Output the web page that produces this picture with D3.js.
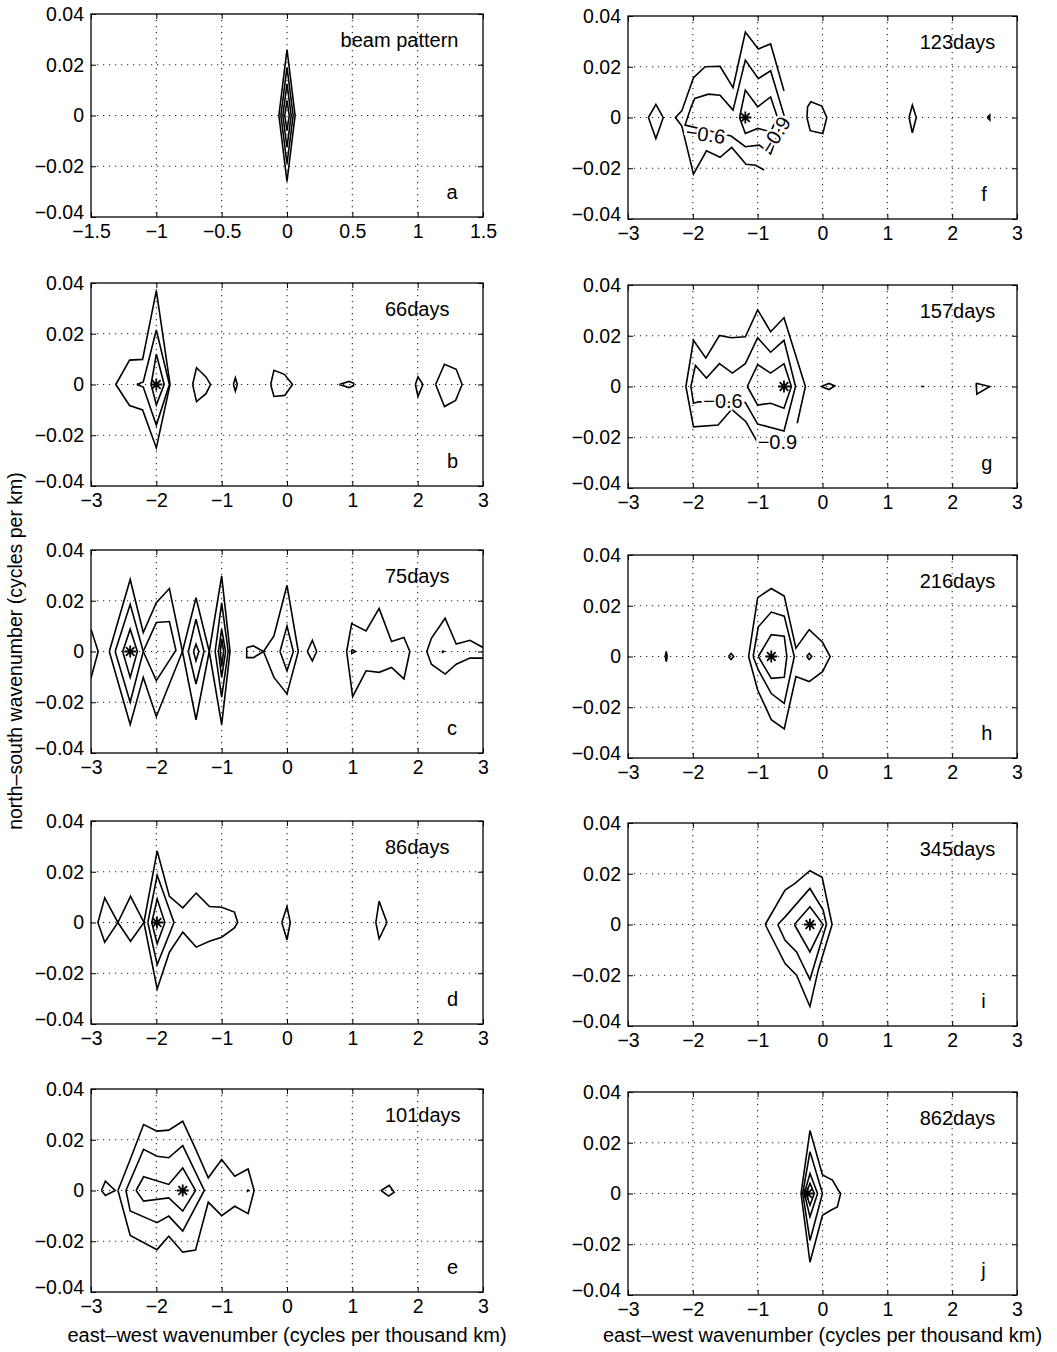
<!DOCTYPE html>
<html>
<head>
<meta charset="utf-8">
<script src="https://cdn.jsdelivr.net/npm/d3@7"></script>
<style>
  body { margin: 0; background: #fff; }
  text { font-family: "Liberation Sans", Arial, sans-serif; fill: #000; }
</style>
</head>
<body>
<div id="chart"></div>
<script>
// tick values
const xTicksBeam = [-1.5, -1, -0.5, 0, 0.5, 1, 1.5];
const xTicksWide = [-3, -2, -1, 0, 1, 2, 3];
const yTicks = [-0.04, -0.02, 0, 0.02, 0.04];

// panel texts
const panelIds = ["a", "b", "c", "d", "e", "f", "g", "h", "i", "j"];
const panelTitles = ["beam pattern", "66days", "75days", "86days", "101days",
                     "123days", "157days", "216days", "345days", "862days"];

// contour lines, one array of [east-west, north-south] points per line
const contoursA = [
  [[-0.062, 0], [0, 0.026], [0.062, 0], [0, -0.026], [-0.062, 0]],
  [[-0.047, 0], [0, 0.019], [0.047, 0], [0, -0.019], [-0.047, 0]],
  [[-0.032, 0], [0, 0.0125], [0.032, 0], [0, -0.0125], [-0.032, 0]],
  [[-0.017, 0], [0, 0.006], [0.017, 0], [0, -0.006], [-0.017, 0]]
];

const contoursB = [
  [[-2.62, 0], [-2.41, 0.0096], [-2.21, 0.0099], [-2.0, 0.037], [-1.79, 0], [-2.0, -0.025], [-2.21, -0.010], [-2.41, -0.0083], [-2.62, 0]],
  [[-2.3, 0], [-2.2, 0.001], [-2.0, 0.0215], [-1.8, 0], [-2.0, -0.016], [-2.2, -0.001], [-2.3, 0]],
  [[-2.08, 0], [-2.0, 0.012], [-1.88, 0], [-2.0, -0.008], [-2.08, 0]],
  [[-1.445, 0], [-1.385, 0.0066], [-1.24, 0.003], [-1.17, 0], [-1.24, -0.0036], [-1.385, -0.0067], [-1.445, 0]],
  [[-0.82, 0], [-0.79, 0.0026], [-0.76, 0], [-0.79, -0.0026], [-0.82, 0]],
  [[-0.25, 0], [-0.2, 0.0056], [-0.04, 0.004], [0.085, 0], [-0.035, -0.0043], [-0.2, -0.0047], [-0.25, 0]],
  [[0.8, 0], [0.95, 0.0012], [1.02, 0.0005], [1.02, -0.0005], [0.95, -0.0012], [0.8, 0]],
  [[1.965, 0], [2.005, 0.003], [2.08, 0], [2.005, -0.0047], [1.965, 0]],
  [[2.275, 0], [2.41, 0.008], [2.59, 0.006], [2.68, 0], [2.58, -0.0063], [2.41, -0.0087], [2.275, 0]]
];

const contoursC = [
  [[-3.0, 0.0088], [-2.89, 0], [-3.0, -0.0105]],
  [[-2.72, 0], [-2.40, 0.0284], [-2.20, 0.0075], [-2.0, 0.0192], [-1.80, 0.0248], [-1.60, 0], [-2.0, -0.0256], [-2.20, -0.0102], [-2.40, -0.0288], [-2.72, 0]],
  [[-2.63, 0], [-2.40, 0.0186], [-2.20, 0], [-2.40, -0.020], [-2.63, 0]],
  [[-2.20, 0], [-2.0, 0.0114], [-1.80, 0.0118], [-1.70, 0.0005], [-1.80, -0.0035], [-2.0, -0.0115], [-2.20, 0]],
  [[-2.515, 0], [-2.40, 0.0088], [-2.29, 0], [-2.40, -0.0102], [-2.515, 0]],
  [[-1.60, 0], [-1.393, 0.0212], [-1.19, 0], [-1.393, -0.0269], [-1.60, 0]],
  [[-1.51, 0], [-1.393, 0.0127], [-1.27, 0], [-1.393, -0.0128], [-1.51, 0]],
  [[-1.43, 0], [-1.393, 0.0029], [-1.35, 0], [-1.393, -0.0037], [-1.43, 0]],
  [[-1.19, 0], [-1.0, 0.0297], [-0.872, 0], [-1.0, -0.0288], [-1.19, 0]],
  [[-1.10, 0], [-1.0, 0.0192], [-0.90, 0], [-1.0, -0.018], [-1.10, 0]],
  [[-1.05, 0], [-1.0, 0.0088], [-0.94, 0], [-1.0, -0.0102], [-1.05, 0]],
  [[-1.02, 0], [-1.0, 0.005], [-0.97, 0], [-1.0, -0.006], [-1.02, 0]],
  [[-0.617, 0.0016], [-0.515, 0.0022], [-0.36, 0], [-0.515, -0.0024], [-0.617, -0.0024], [-0.617, 0.0016]],
  [[-0.36, 0], [-0.20, 0.0061], [0, 0.0261], [0.173, 0], [0, -0.0167], [-0.20, -0.0102], [-0.36, 0]],
  [[-0.107, 0], [0, 0.010], [0.097, 0], [0, -0.0076], [-0.107, 0]],
  [[0.311, 0], [0.388, 0.0044], [0.454, 0], [0.388, -0.0037], [0.311, 0]],
  [[0.913, 0], [0.99, 0.011], [1.21, 0.0081], [1.41, 0.017], [1.60, 0.0039], [1.79, 0.0055], [1.88, 0], [1.79, -0.0108], [1.60, -0.0063], [1.41, -0.0082], [1.21, -0.0076], [1.005, -0.0178], [0.913, 0]],
  [[0.99, 0.0008], [1.05, 0], [0.99, -0.0008], [0.99, 0.0008]],
  [[3.0, 0.0016], [2.80, 0.0044], [2.59, 0.0029], [2.42, 0.0131], [2.21, 0.0052], [2.14, 0], [2.21, -0.005], [2.42, -0.0089], [2.59, -0.005], [2.80, -0.0026], [3.0, -0.0026]],
  [[2.38, 0.0003], [2.40, 0], [2.38, -0.0003], [2.38, 0.0003]]
];

const contoursD = [
  [[-2.894, 0], [-2.79, 0.0097], [-2.588, 0], [-2.79, -0.0078], [-2.894, 0]],
  [[-2.588, 0], [-2.395, 0.0103], [-2.19, 0], [-2.395, -0.0074], [-2.588, 0]],
  [[-2.19, 0], [-1.987, 0.0282], [-1.80, 0.0103], [-1.595, 0.0058], [-1.39, 0.0116], [-1.187, 0.0063], [-1.0, 0.006], [-0.805, 0.0041], [-0.754, 0], [-0.805, -0.0021], [-1.0, -0.0058], [-1.187, -0.0074], [-1.39, -0.0097], [-1.595, -0.0038], [-1.80, -0.0117], [-1.987, -0.0262], [-2.19, 0]],
  [[-2.13, 0], [-1.987, 0.0186], [-1.73, 0], [-1.987, -0.0166], [-2.13, 0]],
  [[-2.07, 0], [-1.987, 0.0093], [-1.87, 0], [-1.987, -0.0084], [-2.07, 0]],
  [[-0.08, 0], [0, 0.0063], [0.05, 0], [0, -0.0068], [-0.08, 0]],
  [[1.36, 0], [1.41, 0.0084], [1.53, 0], [1.41, -0.0064], [1.36, 0]]
];

const contoursE = [
  [[-2.84, 0], [-2.78, 0.0037], [-2.63, 0], [-2.78, -0.002], [-2.84, 0]],
  [[-2.587, 0], [-2.40, 0.0122], [-2.195, 0.026], [-1.99, 0.0234], [-1.81, 0.0238], [-1.596, 0.0273], [-1.40, 0.0164], [-1.205, 0.005], [-1.0, 0.0122], [-0.80, 0.0056], [-0.595, 0.0085], [-0.503, 0], [-0.595, -0.0091], [-0.80, -0.0062], [-1.0, -0.0099], [-1.205, -0.0046], [-1.40, -0.0235], [-1.596, -0.0243], [-1.81, -0.018], [-1.99, -0.0233], [-2.40, -0.0177], [-2.587, 0]],
  [[-2.465, 0], [-2.195, 0.0162], [-1.99, 0.0135], [-1.81, 0.0129], [-1.596, 0.0177], [-1.266, 0], [-1.596, -0.016], [-1.81, -0.0101], [-1.99, -0.0127], [-2.40, -0.0081], [-2.465, 0]],
  [[-2.31, 0], [-2.195, 0.0054], [-1.81, 0.0024], [-1.596, 0.0089], [-1.40, 0], [-1.596, -0.0081], [-1.81, -0.0029], [-2.195, -0.0042], [-2.31, 0]],
  [[1.44, 0], [1.565, 0.002], [1.64, -0.0007], [1.555, -0.0022], [1.44, 0]],
  [[-0.605, 0.0003], [-0.585, 0], [-0.605, -0.0003], [-0.605, 0.0003]]
];

const contoursF = [
  [[-2.685, 0], [-2.57, 0.0052], [-2.456, 0], [-2.57, -0.0083], [-2.685, 0]],
  [[-0.594, 0.0105], [-0.80, 0.029], [-0.99, 0.027], [-1.19, 0.0337], [-1.38, 0.0118], [-1.58, 0.0202], [-1.81, 0.020], [-1.99, 0.0157], [-2.17, 0.0026], [-2.27, 0], [-2.17, -0.0034], [-1.99, -0.0223], [-1.79, -0.0131], [-1.58, -0.0157], [-1.40, -0.0118], [-1.18, -0.0184], [-1.03, -0.0188], [-0.90, -0.0207]],
  [[-2.03, 0.0039], [-1.97, 0.0075], [-1.76, 0.0092], [-1.58, 0.0088], [-1.38, 0.0029], [-1.19, 0.0226], [-0.99, 0.0153], [-0.80, 0.0184], [-0.594, 0.0009], [-0.80, -0.0144], [-0.975, -0.0109], [-1.19, -0.0115], [-1.41, -0.0073], [-2.12, -0.003], [-2.03, 0.0039]],
  [[-1.28, 0], [-1.19, 0.0108], [-1.0, 0.0042], [-0.80, 0.0081], [-0.695, 0], [-0.80, -0.0056], [-1.0, -0.0043], [-1.19, -0.0063], [-1.28, 0]],
  [[-0.24, 0], [-0.23, 0.0042], [-0.18, 0.0062], [-0.01, 0.0045], [0.066, 0], [0.005, -0.0063], [-0.19, -0.0052], [-0.24, 0]],
  [[1.335, 0], [1.386, 0.0049], [1.447, 0], [1.386, -0.006], [1.335, 0]],
  [[2.54, 0], [2.58, 0.001], [2.58, -0.001], [2.54, 0]]
];

const contoursG = [
  [[-0.39, -0.0145], [-0.264, 0], [-0.594, 0.0271], [-0.80, 0.0216], [-1.0, 0.0302], [-1.19, 0.0196], [-1.41, 0.0192], [-1.59, 0.0201], [-1.80, 0.0112], [-1.99, 0.0182], [-2.107, 0], [-1.99, -0.0159], [-1.61, -0.0152], [-1.40, -0.009], [-1.18, -0.0139], [-1.0, -0.0221]],
  [[-2.03, 0], [-1.96, 0.0083], [-1.79, 0.0033], [-1.59, 0.009], [-1.39, 0.0053], [-1.19, 0.009], [-1.0, 0.0192], [-0.80, 0.0135], [-0.594, 0.0182], [-0.416, 0], [-0.594, -0.0175], [-1.0, -0.0148], [-1.19, -0.0063], [-1.91, -0.006], [-1.99, -0.0066], [-2.03, 0]],
  [[-1.16, 0], [-1.0, 0.0086], [-0.80, 0.0053], [-0.594, 0.009], [-0.48, 0], [-0.594, -0.0086], [-0.80, -0.0066], [-1.0, -0.0073], [-1.16, 0]],
  [[-0.02, 0], [0.10, 0.0012], [0.19, 0.0002], [0.10, -0.0012], [-0.02, 0]],
  [[1.52, 0], [1.57, 0]],
  [[2.37, 0.0013], [2.58, 0], [2.38, -0.003], [2.37, 0.0013]]
];

const contoursH = [
  [[-2.425, 0], [-2.41, 0.002], [-2.395, 0], [-2.41, -0.002], [-2.425, 0]],
  [[-1.45, 0], [-1.41, 0.0012], [-1.37, 0], [-1.41, -0.0012], [-1.45, 0]],
  [[-1.14, 0], [-1.0, 0.0232], [-0.79, 0.0268], [-0.59, 0.0238], [-0.41, 0.0033], [-0.205, 0.0106], [0, 0.0056], [0.118, 0], [0, -0.006], [-0.205, -0.0099], [-0.41, -0.0079], [-0.59, -0.0285], [-0.79, -0.0249], [-1.0, -0.0132], [-1.14, 0]],
  [[-1.07, 0], [-0.99, 0.0117], [-0.79, 0.0175], [-0.59, 0.0159], [-0.435, 0], [-0.59, -0.0185], [-0.79, -0.0146], [-0.99, -0.0053], [-1.07, 0]],
  [[-0.99, 0], [-0.79, 0.0086], [-0.59, 0.008], [-0.55, 0], [-0.59, -0.0082], [-0.79, -0.0086], [-0.99, 0]],
  [[-0.245, 0], [-0.205, 0.0012], [-0.165, 0], [-0.205, -0.0012], [-0.245, 0]]
];

const contoursI = [
  [[-0.884, 0], [-0.577, 0.0136], [-0.424, 0.0162], [-0.194, 0.0212], [-0.005, 0.0186], [0.148, 0], [-0.066, -0.018], [-0.194, -0.0323], [-0.40, -0.020], [-0.577, -0.0154], [-0.884, 0]],
  [[-0.69, 0], [-0.577, 0.003], [-0.194, 0.0142], [0.01, 0.0057], [0.061, 0], [-0.194, -0.0217], [-0.40, -0.0108], [-0.577, -0.0062], [-0.69, 0]],
  [[-0.434, 0], [-0.194, 0.007], [0.01, 0], [-0.194, -0.0108], [-0.434, 0]]
];

const contoursJ = [
  [[-0.331, 0], [-0.193, 0.0248], [0, 0.0073], [0.153, 0.0053], [0.244, 0.0013], [0.28, 0], [0.229, -0.0053], [0.127, -0.0066], [0, -0.0086], [-0.193, -0.0271], [-0.331, 0]],
  [[-0.305, 0], [-0.193, 0.0165], [0, 0], [-0.193, -0.0185], [-0.305, 0]],
  [[-0.28, 0], [-0.193, 0.0079], [-0.076, 0], [-0.193, -0.0092], [-0.28, 0]],
  [[-0.254, 0], [-0.193, 0.004], [-0.127, 0], [-0.193, -0.0046], [-0.254, 0]]
];

// maxima marked with an asterisk (null = none)
const peaks = [null, [-2.0, 0], [-2.40, 0], [-1.99, 0], [-1.596, 0],
               [-1.19, 0], [-0.594, 0], [-0.79, 0], [-0.194, 0], [-0.229, 0]];

// contour value labels
const contourLabelsF = [
  {text: "\u22120.6", x: -2.12, y: -0.0083, angle: 8},
  {text: "\u22120.9", x: -0.80, y: -0.0150, angle: -58}
];
const contourLabelsG = [
  {text: "\u22120.6", x: -1.84, y: -0.0086, angle: 0},
  {text: "\u22120.9", x: -1.00, y: -0.0245, angle: 0}
];

const allContours = [contoursA, contoursB, contoursC, contoursD, contoursE,
                     contoursF, contoursG, contoursH, contoursI, contoursJ];
const allLabels = [[], [], [], [], [], contourLabelsF, contourLabelsG, [], [], []];

// layout
const WIDTH = 1057, HEIGHT = 1352;
const COL_X = [91, 628];
const COL_W = [392, 389];
const ROW_TOP = [[14, 283, 550, 821, 1089], [16, 285, 555, 823, 1092]];
const PANEL_H = 203;
const FONT = 20;
const TICK_FONT = 19.5;

const svg = d3.select("#chart").append("svg")
    .attr("width", WIDTH)
    .attr("height", HEIGHT);

const yFmt = (d) => d === 0 ? "0" : d3.format(".2f")(d);

panelIds.forEach((id, i) => {
    let col = i < 5 ? 0 : 1;
    let row = i % 5;
    let w = COL_W[col];
    let top = ROW_TOP[col][row];
    let xTicks = i === 0 ? xTicksBeam : xTicksWide;

    const X_SCALE = d3.scaleLinear()
                        .domain([xTicks[0], xTicks[xTicks.length - 1]])
                        .range([0, w]);
    const Y_SCALE = d3.scaleLinear()
                        .domain([-0.04, 0.04])
                        .range([PANEL_H, 0]);

    let g = svg.append("g")
        .attr("transform", "translate(" + COL_X[col] + "," + top + ")");

    g.append("clipPath").attr("id", "clip" + id)
        .append("rect").attr("width", w).attr("height", PANEL_H);

    // dotted grid
    g.selectAll(".vgrid")
        .data(xTicks.slice(1, -1))
        .enter()
        .append("line")
            .attr("x1", (d) => X_SCALE(d)).attr("x2", (d) => X_SCALE(d))
            .attr("y1", 0).attr("y2", PANEL_H)
            .attr("stroke", "#222").attr("stroke-width", 1.1)
            .attr("stroke-dasharray", "1.2,4.8");
    g.selectAll(".hgrid")
        .data(yTicks.slice(1, -1))
        .enter()
        .append("line")
            .attr("x1", 0).attr("x2", w)
            .attr("y1", (d) => Y_SCALE(d)).attr("y2", (d) => Y_SCALE(d))
            .attr("stroke", "#222").attr("stroke-width", 1.1)
            .attr("stroke-dasharray", "1.2,4.8");

    // contour lines
    let line = d3.line()
        .x((d) => X_SCALE(d[0]))
        .y((d) => Y_SCALE(d[1]));

    g.append("g").attr("clip-path", "url(#clip" + id + ")")
        .selectAll("path")
        .data(allContours[i])
        .enter()
        .append("path")
            .attr("d", line)
            .attr("fill", "none")
            .attr("stroke", "#000")
            .attr("stroke-width", 1.6)
            .attr("stroke-linejoin", "miter");

    // contour labels with white halo (inline clabel gap)
    g.selectAll(".clab")
        .data(allLabels[i])
        .enter()
        .append("text")
            .attr("transform", (d) => "translate(" + X_SCALE(d.x) + "," + Y_SCALE(d.y) + ") rotate(" + d.angle + ")")
            .attr("font-size", FONT)
            .attr("stroke", "#fff").attr("stroke-width", 5)
            .attr("paint-order", "stroke")
            .text((d) => d.text);

    // asterisk at the maximum
    if (peaks[i]) {
        let px = X_SCALE(peaks[i][0]), py = Y_SCALE(peaks[i][1]), r = 6, q = r * 0.72;
        g.append("path")
            .attr("d", "M" + (px - r) + "," + py + "L" + (px + r) + "," + py +
                       "M" + px + "," + (py - r) + "L" + px + "," + (py + r) +
                       "M" + (px - q) + "," + (py - q) + "L" + (px + q) + "," + (py + q) +
                       "M" + (px - q) + "," + (py + q) + "L" + (px + q) + "," + (py - q))
            .attr("stroke", "#000").attr("stroke-width", 1.8);
    }

    // axes
    let bottom = g.append("g")
        .attr("transform", "translate(0," + PANEL_H + ")")
        .call(d3.axisBottom(X_SCALE).tickValues(xTicks).tickFormat(d3.format("~g"))
              .tickSizeInner(-5).tickSizeOuter(0).tickPadding(7));
    let left = g.append("g")
        .call(d3.axisLeft(Y_SCALE).tickValues(yTicks).tickFormat(yFmt)
              .tickSizeInner(-5).tickSizeOuter(0).tickPadding(7));
    let topAx = g.append("g")
        .call(d3.axisTop(X_SCALE).tickValues(xTicks).tickFormat("")
              .tickSizeInner(-5).tickSizeOuter(0));
    let rightAx = g.append("g")
        .attr("transform", "translate(" + w + ",0)")
        .call(d3.axisRight(Y_SCALE).tickValues(yTicks).tickFormat("")
              .tickSizeInner(-5).tickSizeOuter(0));

    [bottom, left, topAx, rightAx].forEach((a) => {
        a.select(".domain").remove();
        a.selectAll("line").attr("stroke", "#000").attr("stroke-width", 1);
        a.selectAll("text").attr("font-size", TICK_FONT)
            .attr("font-family", "Liberation Sans, Arial, sans-serif").attr("fill", "#000");
    });
    // nudge the lowest y label up a little so it clears the x labels
    left.selectAll(".tick text").filter((d) => d === -0.04).attr("dy", "0.1em");

    // box
    g.append("rect")
        .attr("width", w).attr("height", PANEL_H)
        .attr("fill", "none").attr("stroke", "#000").attr("stroke-width", 1.3);

    // title and panel letter
    let titleX = i === 0 ? 0.41 : 1.5;
    g.append("text")
        .attr("x", X_SCALE(titleX)).attr("y", Y_SCALE(0.027))
        .attr("font-size", FONT)
        .text(panelTitles[i]);
    g.append("text")
        .attr("x", X_SCALE(i === 0 ? 1.22 : 2.45)).attr("y", Y_SCALE(-0.033))
        .attr("font-size", FONT)
        .text(id);
});

// axis titles
svg.append("text")
    .attr("transform", "translate(22,651) rotate(-90)")
    .attr("text-anchor", "middle")
    .attr("font-size", 19.5)
    .text("north\u2013south wavenumber (cycles per km)");

[0, 1].forEach((c) => {
    svg.append("text")
        .attr("x", COL_X[c] + COL_W[c] / 2)
        .attr("y", 1342)
        .attr("text-anchor", "middle")
        .attr("font-size", FONT)
        .text("east\u2013west wavenumber (cycles per thousand km)");
});
</script>
</body>
</html>
